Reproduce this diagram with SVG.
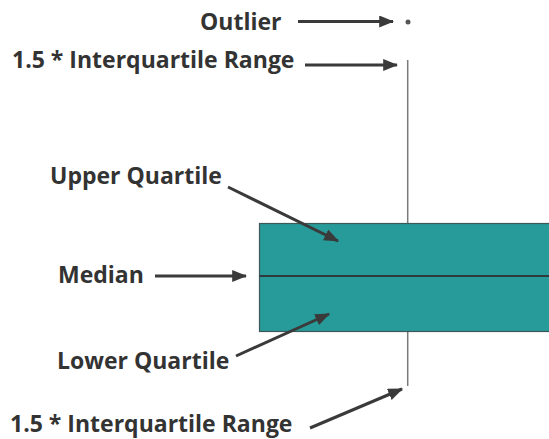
<svg xmlns="http://www.w3.org/2000/svg" width="549" height="439" viewBox="0 0 549 439">
  <defs>
    <marker id="head" markerWidth="5" markerHeight="4" refX="4.6" refY="2" orient="auto" markerUnits="strokeWidth">
      <path d="M0,0 L5,2 L0,4 Z" fill="#3a3a3a"/>
    </marker>
    <style>
      .lbl { font-family: "Open Sans", Lato, "Liberation Sans", sans-serif; font-weight: bold; font-size: 23px; fill: #333333; }
      .arr { stroke: #3a3a3a; stroke-width: 3; fill: none; marker-end: url(#head); }
      .whisker { stroke: #7a7a7a; stroke-width: 1.5; }
    </style>
  </defs>
  <rect width="549" height="439" fill="#ffffff"/>

  <g id="plot">
    <line class="whisker" x1="407.7" y1="60" x2="407.7" y2="223.5"/>
    <line class="whisker" x1="407.7" y1="331.5" x2="407.7" y2="386"/>
    <rect x="259.5" y="223.5" width="295" height="108" fill="#279b9a" stroke="#3d5858" stroke-width="1.2"/>
    <line x1="259.5" y1="276" x2="549" y2="276" stroke="#2f3a3a" stroke-width="2.2"/>
    <circle cx="408" cy="22" r="2.5" fill="#555555"/>
  </g>

  <g id="label-outlier"><text class="lbl" x="200" y="30">Outlier</text></g>
  <g id="label-upper-range"><text class="lbl" x="12" y="68">1.5 * Interquartile Range</text></g>
  <g id="label-upper-quartile"><text class="lbl" x="50" y="184">Upper Quartile</text></g>
  <g id="label-median"><text class="lbl" x="58" y="283">Median</text></g>
  <g id="label-lower-quartile"><text class="lbl" x="57" y="369">Lower Quartile</text></g>
  <g id="label-lower-range"><text class="lbl" x="10" y="432">1.5 * Interquartile Range</text></g>

  <g id="connectors">
    <line class="arr" x1="298" y1="21.5" x2="393" y2="21.5"/>
    <line class="arr" x1="305" y1="65" x2="397" y2="65"/>
    <line class="arr" x1="228" y1="187" x2="338" y2="241"/>
    <line class="arr" x1="155" y1="276" x2="246" y2="276"/>
    <line class="arr" x1="236" y1="356" x2="329" y2="314"/>
    <line class="arr" x1="310" y1="428" x2="402" y2="389"/>
  </g>
</svg>
